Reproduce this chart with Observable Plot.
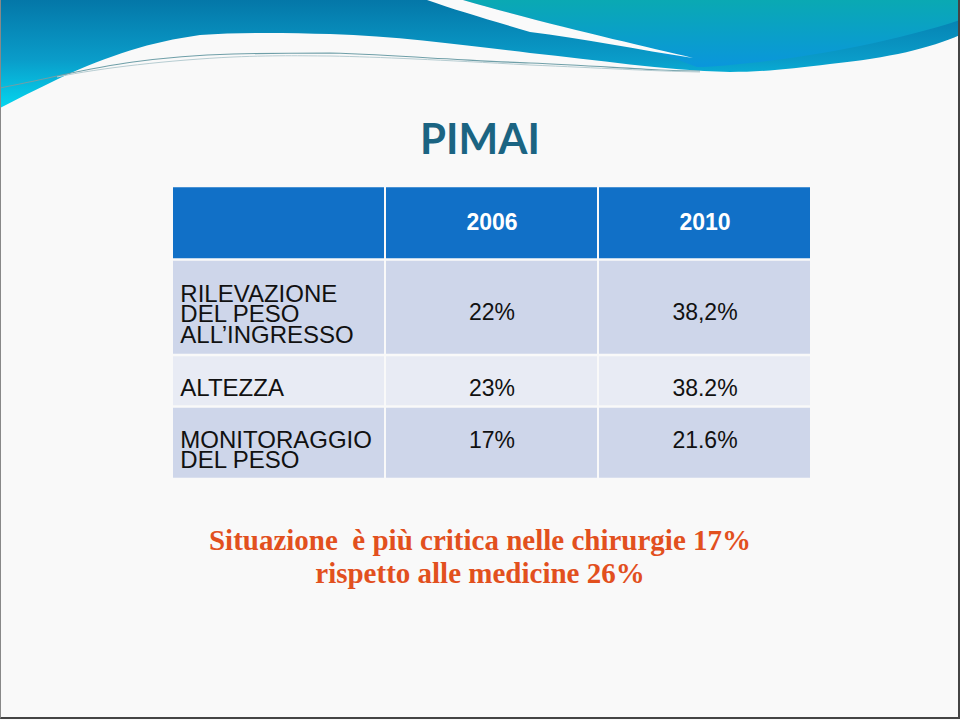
<!DOCTYPE html>
<html>
<head>
<meta charset="utf-8">
<script src="https://cdn.jsdelivr.net/npm/d3@7"></script>
<script src="https://cdn.jsdelivr.net/npm/@observablehq/plot@0.6"></script>
<style>
  html, body { margin: 0; padding: 0; background: #ffffff; }
  #slide { position: relative; width: 960px; height: 720px; overflow: hidden; background: #f9f9f9; }
  #deco { position: absolute; left: 0; top: 0; }
  #title { position: absolute; left: 0; top: 117px; width: 960px; text-align: center;
           font-family: Lato, "Open Sans", sans-serif; font-weight: 700; font-size: 42px; line-height: 1;
           color: #1b6482; }
  #table { position: absolute; left: 171px; top: 186px; }
  #note { position: absolute; left: 0; top: 524px; width: 960px; text-align: center; white-space: pre;
          font-family: "Liberation Serif", "DejaVu Serif", serif; font-weight: 700; font-size: 29px; line-height: 33px;
          color: #e2501e; }
  #frame { position: absolute; left: 0; top: 0; width: 957px; height: 717px; border-right: 2px solid #444; border-bottom: 2px solid #444; border-left: 1px solid #888; pointer-events: none; }
</style>
</head>
<body>
<div id="slide">
  <svg id="deco" width="960" height="120" viewBox="0 0 960 120">
    <defs>
      <linearGradient id="gLeft" x1="0" y1="0" x2="0" y2="1">
        <stop offset="0" stop-color="#0477a8"/>
        <stop offset="0.55" stop-color="#0a9cc9"/>
        <stop offset="1" stop-color="#04d6ef"/>
      </linearGradient>
      <linearGradient id="gRight" x1="0" y1="0" x2="0" y2="1">
        <stop offset="0" stop-color="#0aa9b3"/>
        <stop offset="1" stop-color="#0a96dc"/>
      </linearGradient>
    </defs>
    <path d="M0,0 H960 V35 C930,48 890,58 830,64 C790,69 760,72 730,72 C660,70 600,60 530,53 C470,46 400,36 330,34 C290,33 240,32 200,35 C150,42 110,55 60,78 C35,90 15,100 0,108 Z" fill="url(#gLeft)"/>
    <path d="M463,0 H960 V20 C900,40 820,55 760,62 C730,65 710,67 697,67 C640,45 560,28 463,0 Z" fill="url(#gRight)"/>
    <path d="M427,0 H463 C560,28 640,45 693,58 C640,50 580,38 530,32 C490,20 455,10 427,0 Z" fill="#fafafa"/>
    <path d="M0,88 C20,84 40,80 57,76 C90,69 110,65 133,62 C170,57 200,55 233,54 C270,53 300,53 330,53 C370,54 400,56 430,58 C470,60 500,62 530,63 C580,65 620,68 660,70 C680,71 690,71 700,71" fill="none" stroke="#6f9fa8" stroke-width="1.2"/>
    <path d="M57,77 C100,68 170,60 233,57 C280,55 310,56 330,56 C380,57 440,60 530,65 C600,68 650,71 700,72" fill="none" stroke="#b7cdd2" stroke-width="1"/>
  </svg>
  <div id="title">PIMAI</div>
  <div id="table"></div>
  <div id="note">Situazione  è più critica nelle chirurgie 17%
rispetto alle medicine 26%</div>
  <div id="frame"></div>
</div>
<script>
// ---- data ----
const years = ["2006", "2010"];
const indicators = ["RILEVAZIONE\nDEL PESO\nALL\u2019INGRESSO", "ALTEZZA", "MONITORAGGIO\nDEL PESO"];
const values2006 = ["22%", "23%", "17%"];
const values2010 = ["38,2%", "38.2%", "21.6%"];

// ---- layout (not data) ----
const columns = ["label", ...years];
const rowUnits = [73.5, 95.5, 51.5, 72.5]; // header + one per indicator
const W = 640, H = d3.sum(rowUnits);
const edges = [0, ...d3.cumsum(rowUnits)];
const rowFill = ["#1170c7", "#ced6ea", "#e8ebf4", "#ced6ea"];
const valueNudge = [5, 7, -3]; // vertical text offset per indicator row (cell alignment)

const cells = [];
for (let r = 0; r < rowUnits.length; r++) {
  for (const c of columns) {
    cells.push({col: c, y1: edges[r], y2: edges[r + 1], fill: rowFill[r]});
  }
}
const mid = r => (edges[r] + edges[r + 1]) / 2;
const headerTexts = years.map(y => ({col: y, y: mid(0), text: y}));
const labelTexts = indicators.map((t, i) => ({col: "label", y: mid(i + 1), text: t}));
const valueTexts = [
  ...values2006.map((t, i) => ({col: "2006", y: mid(i + 1) + valueNudge[i], text: t})),
  ...values2010.map((t, i) => ({col: "2010", y: mid(i + 1) + valueNudge[i], text: t}))
];
const bw = W / columns.length;

const chart = Plot.plot({
  width: W,
  height: H,
  margin: 0,
  x: {type: "band", domain: columns, range: [0, W], padding: 0, axis: null},
  y: {domain: [0, H], range: [0, H], axis: null},
  style: {background: "transparent", overflow: "visible", fontFamily: "'Liberation Sans', Arial, sans-serif"},
  marks: [
    Plot.barY(cells, {x: "col", y1: "y1", y2: "y2", fill: "fill",
      insetLeft: 1, insetRight: 1, insetTop: 1.25, insetBottom: 1.25}),
    Plot.text(headerTexts, {x: "col", y: "y", text: "text", fill: "#ffffff",
      fontWeight: "bold", fontSize: 23, dy: -1}),
    Plot.text(labelTexts, {x: "col", y: "y", text: "text", fill: "#111111",
      fontSize: 24, lineHeight: 0.85, textAnchor: "start", dx: -bw / 2 + 8, dy: 8}),
    Plot.text(valueTexts, {x: "col", y: "y", text: "text", fill: "#111111",
      fontSize: 23})
  ]
});
document.getElementById("table").appendChild(chart);
</script>
</body>
</html>
